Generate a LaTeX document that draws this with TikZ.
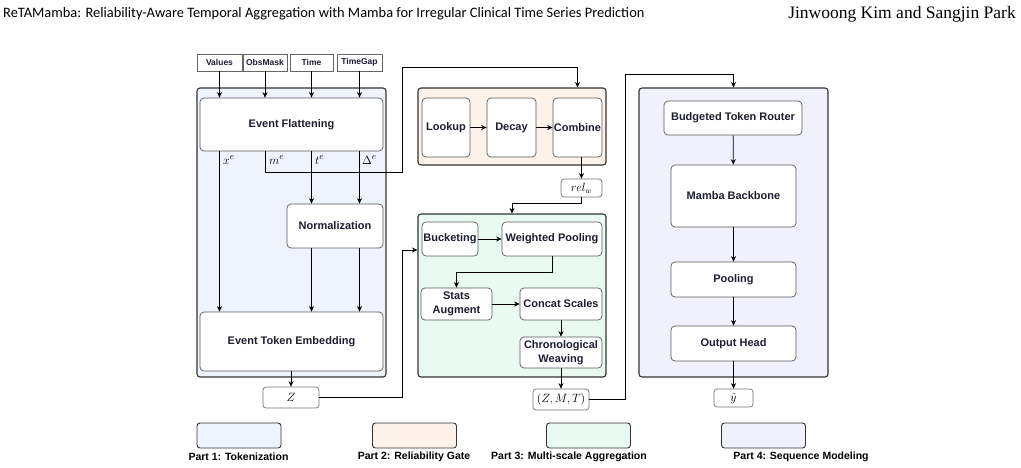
\documentclass[tikz,border=0pt]{standalone}
\usepackage[no-math]{fontspec}
\setmainfont{Liberation Sans}
\newfontfamily\titlefont{Carlito}
\newfontfamily\authorfont{Liberation Serif}
\usepackage{amsmath}
\usetikzlibrary{arrows.meta}
\definecolor{tokblue}{HTML}{EEF3FE}
\definecolor{gateorange}{HTML}{FDF3EA}
\definecolor{agggreen}{HTML}{E8FAF1}
\definecolor{seqpurple}{HTML}{F1F0FD}
\definecolor{inktext}{HTML}{1E1E32}

\begin{document}
\begin{tikzpicture}[x=1pt,y=-1pt,
    panel/.style={draw=black!80,line width=1.1pt,rounded corners=3pt,inner sep=0pt},
    blk/.style={draw=black!65,line width=0.7pt,fill=white,rounded corners=4pt,inner sep=1pt,
        font=\fontsize{11}{14}\selectfont\bfseries,text=inktext,align=center},
    inbox/.style={draw=black!60,line width=0.6pt,fill=white,inner sep=0pt,minimum height=17pt,
        font=\fontsize{8.5}{9}\selectfont\bfseries,text=inktext},
    var/.style={draw=black!55,line width=0.7pt,fill=white,rounded corners=3pt,inner sep=0pt,
        font=\fontsize{11.5}{12}\selectfont},
    lbl/.style={font=\fontsize{13}{14}\selectfont,inner sep=0pt,anchor=west},
    flow/.style={-{Stealth[length=5.5pt,width=5pt]},line width=0.75pt},
    legbox/.style={draw=black!80,line width=0.9pt,rounded corners=3pt,minimum width=84pt,minimum height=25pt},
    legtext/.style={font=\fontsize{10.5}{12}\selectfont\bfseries,inner sep=0pt}
]
    \useasboundingbox (0,0) rectangle (1021,467);

    % Page header
    \node[anchor=base west,inner sep=0pt] (title) at (3,17.5)
        {\titlefont\fontsize{14.4}{16}\selectfont ReTAMamba: Reliability-Aware Temporal Aggregation with Mamba for Irregular Clinical Time Series Prediction};
    \node[anchor=base east,inner sep=0pt] (author) at (1016,18)
        {\authorfont\fontsize{17.5}{20}\selectfont Jinwoong Kim and Sangjin Park};

    % Part panels
    \node[panel,fill=tokblue,minimum width=189pt,minimum height=289pt] (tok) at (291.5,232.5) {};
    \node[panel,fill=gateorange,minimum width=188pt,minimum height=77pt] (gate) at (512,126.5) {};
    \node[panel,fill=agggreen,minimum width=188pt,minimum height=163pt] (agg) at (512,295.5) {};
    \node[panel,fill=seqpurple,minimum width=189pt,minimum height=289pt] (seq) at (733.5,232.5) {};

    % Inputs
    \foreach \nm/\cx/\w/\lab in {inval/219.5/45/Values, inmask/265/44/ObsMask,
                                 intime/311.5/43/Time, ingap/359.5/45/TimeGap} {
        \node[inbox,minimum width=\w pt] (\nm) at (\cx,62.5) {\lab};
    }

    % Part 1: tokenization
    \node[blk,minimum width=183pt,minimum height=53pt] (flat) at (291.5,124.5) {Event Flattening};
    \node[blk,minimum width=96pt,minimum height=44pt] (norm) at (335,226) {Normalization};
    \node[blk,minimum width=183pt,minimum height=59pt] (ete) at (291.5,341.5) {Event Token Embedding};
    \node[var,minimum width=56pt,minimum height=21pt] (zout) at (291,397.5) {$Z$};

    \foreach \nm in {inval,inmask,intime,ingap} {
        \draw[flow] (\nm.south) -- (\nm |- flat.north);
    }
    \draw[flow] (flat.south -| inval) -- (ete.north -| inval);
    \draw[flow] (flat.south -| intime) -- (norm.north -| intime);
    \draw[flow] (flat.south -| ingap) -- (norm.north -| ingap);
    \draw[flow] (norm.south -| intime) -- (ete.north -| intime);
    \draw[flow] (norm.south -| ingap) -- (ete.north -| ingap);
    \draw[flow] (ete.south -| zout) -- (zout.north);

    \node[lbl] (xe) at (223,160) {$x^e$};
    \node[lbl] (me) at (269,160) {$m^e$};
    \node[lbl] (te) at (315,160) {$t^e$};
    \node[lbl] (de) at (362,160) {$\Delta^e$};

    % Part 2: reliability gate
    \node[blk,minimum width=48pt,minimum height=59pt] (look) at (446,127.5) {Lookup};
    \node[blk,minimum width=49pt,minimum height=59pt] (decay) at (511.5,127.5) {Decay};
    \node[blk,minimum width=49pt,minimum height=59pt] (comb) at (577.5,127.5) {Combine};
    \node[var,minimum width=41pt,minimum height=18pt] (rel) at (581.5,188) {$rel_w$};

    \draw[flow] (look) -- (decay);
    \draw[flow] (decay) -- (comb);
    \draw[flow] (comb.south -| rel) -- (rel.north);
    \draw[flow] (flat.south -| inmask) |- (402,172) -- (402,67) -| (gate.north -| comb);

    % Part 3: multi-scale aggregation
    \node[blk,minimum width=56pt,minimum height=34pt] (buck) at (450,239) {Bucketing};
    \node[blk,minimum width=100pt,minimum height=34pt] (wpool) at (552,239) {Weighted Pooling};
    \node[blk,minimum width=71pt,minimum height=32pt] (stats) at (456.5,304) {Stats\\Augment};
    \node[blk,minimum width=82pt,minimum height=32pt] (concat) at (561,304) {Concat Scales};
    \node[blk,minimum width=82pt,minimum height=31pt] (chrono) at (561,352.5) {Chronological\\Weaving};
    \node[var,minimum width=56pt,minimum height=21pt] (zmt) at (561,399.5) {$(Z,M,T)$};

    \draw[flow] (rel.south) -- ++(0,6) -| (agg.north);
    \draw[flow] (zout.east) -| (402,250) -- ([yshift=45.5pt]agg.west);
    \draw[flow] (buck) -- (wpool);
    \draw[flow] (wpool.south) -- ++(0,16) -| (stats.north);
    \draw[flow] (stats) -- (concat);
    \draw[flow] (concat) -- (chrono);
    \draw[flow] (chrono) -- (zmt);

    % Part 4: sequence modeling
    \node[blk,minimum width=138pt,minimum height=34pt] (router) at (733,118) {Budgeted Token Router};
    \node[blk,minimum width=125pt,minimum height=62pt] (mamba) at (733.5,196) {Mamba Backbone};
    \node[blk,minimum width=125pt,minimum height=35pt] (pool) at (733.5,279.5) {Pooling};
    \node[blk,minimum width=125pt,minimum height=35pt] (head) at (733.5,343.5) {Output Head};
    \node[var,minimum width=39pt,minimum height=18pt] (yhat) at (733.5,398) {$\hat{y}$};

    \draw[flow] (zmt.east) -| (625,74) -| (seq.north);
    \draw[flow] (router) -- (mamba);
    \draw[flow] (mamba) -- (pool);
    \draw[flow] (pool) -- (head);
    \draw[flow] (head) -- (yhat);

    % Legend
    \foreach \i/\bx/\tx/\col/\lab in {1/239/238.5/tokblue/Part 1: Tokenization,
                                      2/414.5/414/gateorange/Part 2: Reliability Gate,
                                      3/588.5/569/agggreen/Part 3: Multi-scale Aggregation,
                                      4/763.5/801/seqpurple/Part 4: Sequence Modeling} {
        \node[legbox,fill=\col] (leg\i) at (\bx,435.5) {};
        \node[legtext] (legl\i) at (\tx,457) {\lab};
    }
\end{tikzpicture}
\end{document}
